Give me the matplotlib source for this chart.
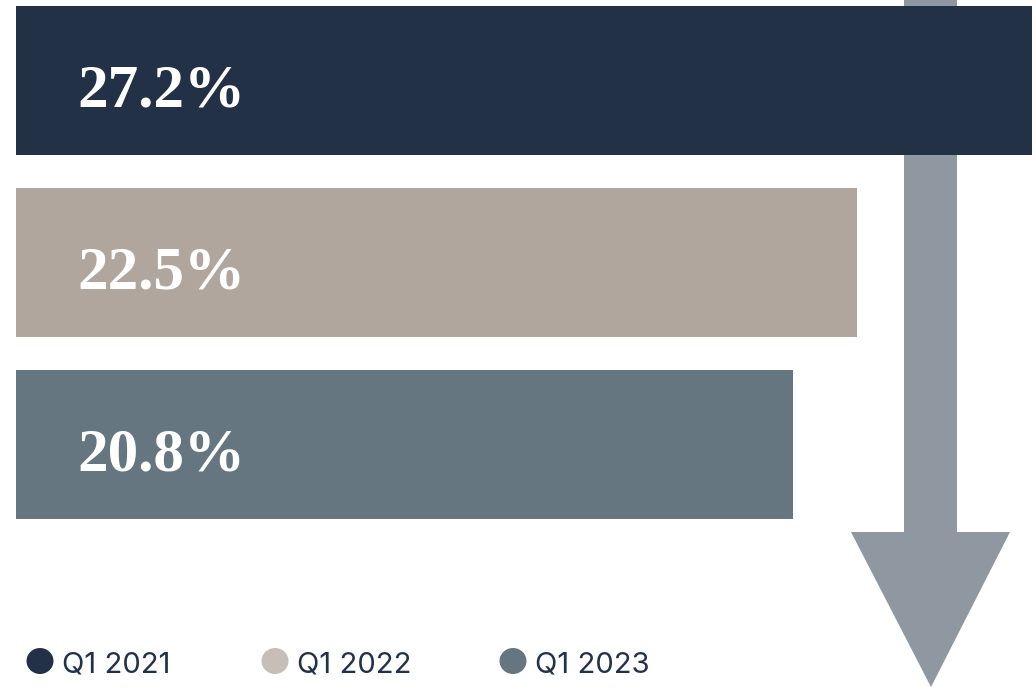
import matplotlib
matplotlib.use("Agg")
import matplotlib.pyplot as plt
from matplotlib.patches import Polygon, Ellipse

# Data
periods = ["Q1 2021", "Q1 2022", "Q1 2023"]
values = [27.2, 22.5, 20.8]
labels = ["27.2%", "22.5%", "20.8%"]
bar_colors = ["#223146", "#b0a69d", "#657680"]
legend_colors = ["#223146", "#c6beb7", "#657680"]
arrow_color = "#8f97a1"
text_dark = "#22314a"

W, H = 1036, 687
fig = plt.figure(figsize=(W / 100, H / 100), dpi=100)

# Background overlay in pixel coordinates (arrow + legend)
bg = fig.add_axes([0, 0, 1, 1], zorder=0)
bg.set_xlim(0, W)
bg.set_ylim(H, 0)
bg.axis("off")
shaft_l, shaft_r, head_y = 904, 957, 532
arrow = Polygon([(shaft_l, 0), (shaft_r, 0), (shaft_r, head_y), (1010, head_y),
                 (931, H), (851, head_y), (shaft_l, head_y)],
                closed=True, facecolor=arrow_color, edgecolor="none")
bg.add_patch(arrow)

# Bars
ax = fig.add_axes([0, 0, 1, 1], zorder=1)
ax.patch.set_alpha(0)
px_per_unit = 37.36
x0 = 16
ax.set_xlim(-x0 / px_per_unit, (W - x0) / px_per_unit)
row = 182
c0 = 80.5
ax.set_ylim((H - c0) / row, -c0 / row)
ys = list(range(len(values)))
ax.barh(ys, values, height=149 / row, color=bar_colors)
for y, lab in zip(ys, labels):
    ax.annotate(lab, (0, y), xytext=(61, -26), textcoords="offset pixels",
                ha="left", va="baseline", color="white",
                fontsize=44, family="Liberation Serif", fontweight="bold")
ax.axis("off")

# Legend
leg_x = [40, 275, 513]
for xc, col, per in zip(leg_x, legend_colors, periods):
    bg.add_patch(Ellipse((xc, 661), 27, 26, facecolor=col, edgecolor="none"))
    bg.text(xc + 22, 672, per, ha="left", va="baseline", color=text_dark,
            fontsize=21, family="Inter")

fig.savefig("out.png", dpi=100)
